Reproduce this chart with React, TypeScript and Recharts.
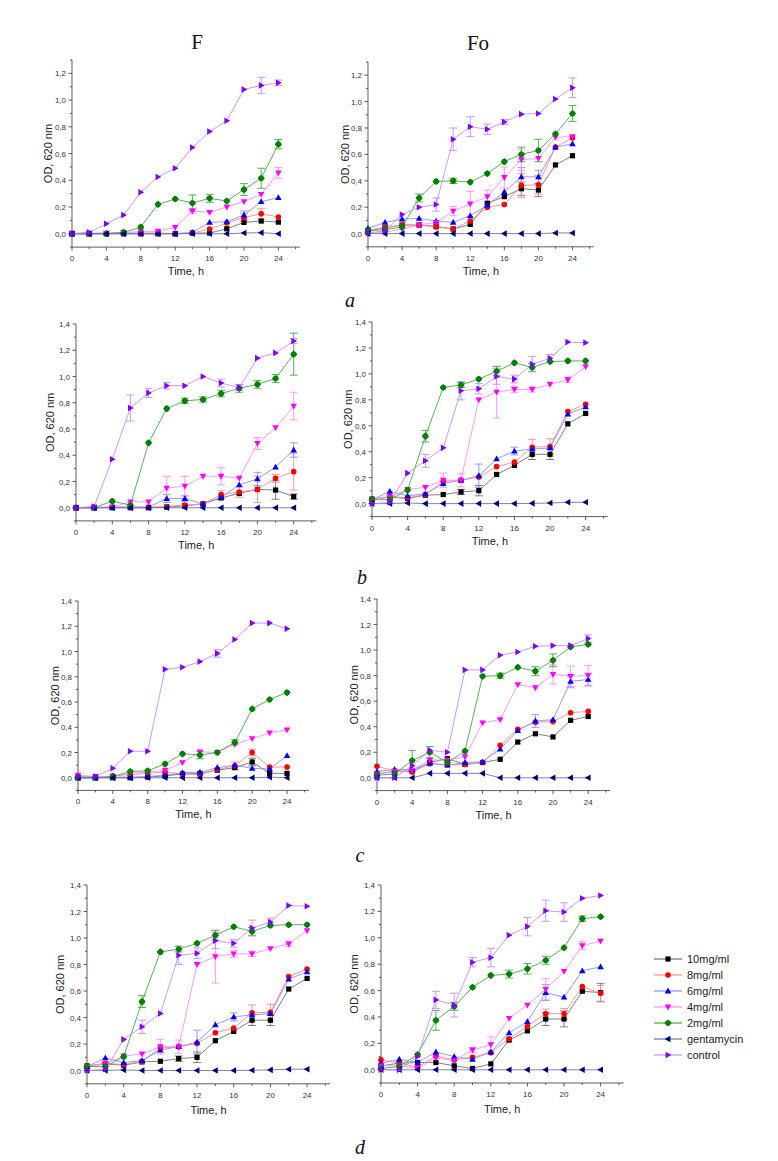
import React from "react";
import { LineChart, Line, XAxis, YAxis, ErrorBar } from "recharts";

const TIME = [0, 2, 4, 6, 8, 10, 12, 14, 16, 18, 20, 22, 24];
const X_TICKS = [0, 2, 4, 6, 8, 10, 12, 14, 16, 18, 20, 22, 24, 26];
const Y_TICKS_13 = [-0.1, 0, 0.1, 0.2, 0.3, 0.4, 0.5, 0.6, 0.7, 0.8, 0.9, 1.0, 1.1, 1.2, 1.3];
const Y_TICKS_14 = [-0.1, 0, 0.1, 0.2, 0.3, 0.4, 0.5, 0.6, 0.7, 0.8, 0.9, 1.0, 1.1, 1.2, 1.3, 1.4];
const SERIES_NAMES = ["10mg/ml", "8mg/ml", "6mg/ml", "4mg/ml", "2mg/ml", "gentamycin", "control"];

// ---- row a, F ----
const aF_10 = [0, 0, 0, 0, 0, 0, 0, 0.005, 0.005, 0.037, 0.085, 0.095, 0.087];
const aF_8 = [0, 0, 0, 0, 0, 0, 0, 0.005, 0.035, 0.08, 0.12, 0.15, 0.125];
const aF_6 = [0, 0, 0.005, 0.005, 0.005, 0.005, 0, 0.01, 0.085, 0.09, 0.14, 0.24, 0.27];
const aF_4 = [0.005, 0.005, 0.005, 0.01, 0.015, 0.02, 0.048, 0.17, 0.16, 0.2, 0.24, 0.295, 0.455];
const aF_2 = [0, 0, 0, 0.01, 0.05, 0.22, 0.26, 0.23, 0.265, 0.245, 0.33, 0.415, 0.67];
const aF_gen = [0, 0, 0, 0, 0, 0, 0, 0, 0, 0, 0.005, 0.008, 0];
const aF_ctrl = [0, 0.01, 0.075, 0.14, 0.31, 0.425, 0.49, 0.645, 0.765, 0.845, 1.08, 1.11, 1.13];
const aF_8e = [0, 0, 0, 0, 0, 0, 0, 0, 0, 0, 0.03, 0.04, 0];
const aF_6e = [0, 0, 0, 0, 0, 0, 0, 0, 0, 0, 0.03, 0, 0];
const aF_4e = [0, 0, 0, 0, 0, 0, 0, 0.02, 0, 0, 0, 0, 0.04];
const aF_2e = [0, 0, 0, 0, 0, 0, 0, 0.06, 0.03, 0, 0.045, 0.075, 0.035];
const aF_ctrle = [0, 0, 0, 0, 0, 0, 0, 0, 0, 0, 0, 0.06, 0.02];

// ---- row a, Fo ----
const aFo_10 = [0.025, 0.045, 0.065, 0.065, 0.055, 0.035, 0.07, 0.23, 0.28, 0.34, 0.33, 0.52, 0.59];
const aFo_8 = [0.025, 0.045, 0.065, 0.065, 0.05, 0.035, 0.095, 0.2, 0.22, 0.365, 0.37, 0.655, 0.725];
const aFo_6 = [0.04, 0.085, 0.11, 0.115, 0.095, 0.085, 0.135, 0.215, 0.315, 0.43, 0.43, 0.655, 0.68];
const aFo_4 = [0, 0.01, 0.035, 0.065, 0.085, 0.17, 0.225, 0.28, 0.425, 0.56, 0.57, 0.73, 0.735];
const aFo_2 = [0.02, 0.03, 0.05, 0.27, 0.395, 0.4, 0.39, 0.455, 0.545, 0.6, 0.63, 0.755, 0.91];
const aFo_gen = [0, 0, 0, 0, 0, 0, 0, 0, 0, 0, 0, 0.005, 0.005];
const aFo_ctrl = [0.005, 0.02, 0.145, 0.2, 0.22, 0.715, 0.81, 0.79, 0.845, 0.905, 0.91, 1.02, 1.105];
const aFo_10e = [0, 0, 0, 0, 0, 0, 0, 0, 0, 0.05, 0.05, 0, 0];
const aFo_8e = [0, 0, 0, 0, 0, 0, 0, 0, 0, 0.09, 0.07, 0, 0];
const aFo_6e = [0, 0, 0, 0, 0, 0, 0, 0, 0, 0.07, 0.05, 0, 0];
const aFo_4e = [0, 0, 0, 0, 0, 0.035, 0.095, 0.05, 0.08, 0.08, 0, 0, 0];
const aFo_2e = [0, 0, 0, 0.03, 0, 0.02, 0, 0, 0, 0.055, 0.085, 0, 0.06];
const aFo_ctrle = [0, 0, 0, 0, 0.05, 0.085, 0.075, 0.04, 0.02, 0, 0, 0, 0.075];

// ---- row b, F ----
const bF_10 = [0, 0, 0, 0, 0, 0.005, 0.015, 0.03, 0.075, 0.11, 0.14, 0.135, 0.085];
const bF_8 = [0, 0, 0.005, 0.005, 0.005, 0.01, 0.02, 0.03, 0.1, 0.12, 0.14, 0.225, 0.275];
const bF_6 = [0, 0, 0.005, 0.005, 0.005, 0.07, 0.07, 0.03, 0.08, 0.175, 0.22, 0.31, 0.44];
const bF_4 = [0, 0.005, 0.005, 0.045, 0.045, 0.15, 0.165, 0.24, 0.24, 0.225, 0.49, 0.61, 0.775];
const bF_2 = [0, 0, 0.05, 0.02, 0.495, 0.755, 0.815, 0.825, 0.87, 0.91, 0.94, 0.985, 1.17];
const bF_gen = [0, 0, 0, 0, 0, 0, 0, 0, 0, 0, 0, 0, 0];
const bF_ctrl = [0, 0.01, 0.37, 0.76, 0.875, 0.93, 0.93, 1.0, 0.95, 0.915, 1.14, 1.18, 1.27];
const bF_10e = [0, 0, 0, 0, 0, 0, 0, 0, 0, 0, 0, 0.07, 0.02];
const bF_8e = [0, 0, 0, 0, 0, 0, 0, 0, 0.03, 0.04, 0.1, 0.03, 0.14];
const bF_6e = [0, 0, 0, 0, 0, 0.03, 0.02, 0, 0, 0, 0.05, 0, 0.055];
const bF_4e = [0, 0, 0, 0, 0, 0.09, 0.075, 0, 0.065, 0, 0.045, 0, 0.105];
const bF_2e = [0, 0, 0, 0, 0, 0, 0.02, 0.02, 0.025, 0.03, 0.03, 0.03, 0.16];
const bF_ctrle = [0, 0, 0, 0.1, 0.035, 0.025, 0, 0, 0.03, 0.02, 0, 0, 0.02];

// ---- row b, Fo (also shown again in row d, F) ----
const bFo_10 = [0.035, 0.05, 0.04, 0.065, 0.07, 0.09, 0.1, 0.225, 0.295, 0.38, 0.38, 0.615, 0.695];
const bFo_8 = [0.035, 0.055, 0.045, 0.07, 0.17, 0.18, 0.205, 0.285, 0.32, 0.435, 0.44, 0.71, 0.765];
const bFo_6 = [0.03, 0.095, 0.06, 0.075, 0.155, 0.18, 0.215, 0.345, 0.405, 0.42, 0.43, 0.69, 0.745];
const bFo_4 = [0.03, 0.05, 0.11, 0.125, 0.18, 0.18, 0.8, 0.86, 0.88, 0.88, 0.92, 0.955, 1.055];
const bFo_2 = [0.03, 0.03, 0.105, 0.52, 0.895, 0.915, 0.96, 1.02, 1.085, 1.05, 1.095, 1.1, 1.1];
const bFo_gen = [0, 0, 0.005, 0, 0, 0, 0, 0, 0, 0.002, 0.005, 0.01, 0.01];
const bFo_ctrl = [0, 0.01, 0.235, 0.33, 0.43, 0.87, 0.885, 0.98, 0.96, 1.075, 1.12, 1.245, 1.24];
const bFo_10e = [0, 0, 0, 0, 0, 0.02, 0.04, 0, 0, 0.04, 0.04, 0, 0];
const bFo_8e = [0, 0, 0, 0, 0, 0, 0, 0, 0, 0.06, 0.06, 0, 0];
const bFo_6e = [0, 0, 0, 0, 0, 0, 0.09, 0, 0.03, 0, 0, 0, 0];
const bFo_4e = [0, 0, 0, 0, 0.055, 0.05, 0, 0.2, 0.025, 0.02, 0, 0.02, 0];
const bFo_2e = [0, 0, 0, 0.045, 0, 0.02, 0, 0.035, 0, 0.03, 0, 0, 0];
const bFo_ctrle = [0, 0, 0, 0.05, 0, 0.07, 0.04, 0.06, 0.03, 0.06, 0.03, 0, 0];

// ---- row c, F ----
const cF_10 = [0, 0, 0, 0, 0.005, 0.015, 0.03, 0.035, 0.06, 0.08, 0.125, 0.035, 0.035];
const cF_8 = [0.005, 0, 0.015, 0.025, 0.035, 0.045, 0.03, 0.025, 0.065, 0.095, 0.2, 0.085, 0.085];
const cF_6 = [0, 0, 0.005, 0.005, 0.01, 0.02, 0.04, 0.045, 0.08, 0.1, 0.075, 0.07, 0.175];
const cF_4 = [0.02, 0.01, 0.01, 0.035, 0.045, 0.06, 0.12, 0.205, 0.2, 0.265, 0.31, 0.355, 0.38];
const cF_2 = [0, 0, 0.01, 0.05, 0.055, 0.11, 0.19, 0.18, 0.2, 0.28, 0.545, 0.62, 0.675];
const cF_gen = [0, 0, 0, 0, 0, 0, 0, 0, 0, 0, 0, 0.005, 0];
const cF_ctrl = [0.01, 0.01, 0.075, 0.21, 0.21, 0.86, 0.875, 0.92, 0.985, 1.095, 1.225, 1.225, 1.18];
const cF_10e = [0, 0, 0, 0, 0, 0, 0, 0, 0, 0, 0.03, 0, 0];
const cF_8e = [0, 0, 0, 0, 0, 0, 0, 0, 0, 0.03, 0.025, 0, 0];
const cF_2e = [0, 0, 0, 0, 0, 0, 0, 0.03, 0, 0.02, 0, 0, 0];
const cF_ctrle = [0, 0, 0, 0, 0, 0, 0, 0, 0.03, 0, 0, 0, 0];

// ---- row c, Fo ----
const cFo_10 = [0.03, 0.05, 0.05, 0.12, 0.15, 0.105, 0.12, 0.145, 0.28, 0.345, 0.32, 0.45, 0.48];
const cFo_8 = [0.09, 0.055, 0.045, 0.11, 0.1, 0.105, 0.12, 0.255, 0.38, 0.435, 0.44, 0.51, 0.52];
const cFo_6 = [0.05, 0.065, 0.065, 0.115, 0.1, 0.12, 0.125, 0.225, 0.37, 0.445, 0.455, 0.755, 0.77];
const cFo_4 = [0.03, 0.05, 0.06, 0.14, 0.14, 0.165, 0.43, 0.455, 0.73, 0.705, 0.81, 0.795, 0.8];
const cFo_2 = [0.02, 0.03, 0.135, 0.2, 0.12, 0.21, 0.795, 0.8, 0.865, 0.835, 0.92, 1.025, 1.045];
const cFo_gen = [0, 0, 0, 0.035, 0.035, 0.035, 0.035, 0, 0, 0, 0, 0, 0];
const cFo_ctrl = [0, 0, 0.095, 0.215, 0.2, 0.845, 0.845, 0.96, 0.985, 1.03, 1.035, 1.035, 1.09];
const cFo_6e = [0, 0, 0, 0, 0, 0, 0, 0, 0, 0.05, 0, 0.05, 0.05];
const cFo_4e = [0, 0, 0, 0, 0, 0, 0, 0, 0, 0, 0.075, 0.08, 0.08];
const cFo_2e = [0, 0, 0.08, 0.045, 0, 0, 0, 0.02, 0, 0.035, 0.05, 0, 0];
const cFo_ctrle = [0, 0, 0, 0, 0, 0, 0, 0, 0, 0, 0, 0, 0.03];

// ---- row d, Fo ----
const dFo_10 = [0.03, 0.05, 0.055, 0.055, 0.03, 0.01, 0.045, 0.225, 0.295, 0.385, 0.385, 0.595, 0.585];
const dFo_8 = [0.075, 0.05, 0.02, 0.105, 0.075, 0.095, 0.13, 0.235, 0.33, 0.425, 0.425, 0.63, 0.58];
const dFo_6 = [0.05, 0.08, 0.055, 0.135, 0.1, 0.08, 0.135, 0.28, 0.365, 0.585, 0.55, 0.75, 0.78];
const dFo_4 = [0.03, 0.03, 0.01, 0.09, 0.07, 0.15, 0.19, 0.39, 0.49, 0.61, 0.745, 0.94, 0.975];
const dFo_2 = [0.01, 0.025, 0.115, 0.375, 0.48, 0.625, 0.715, 0.725, 0.765, 0.83, 0.925, 1.145, 1.16];
const dFo_gen = [0, 0, 0, 0, 0, 0, 0, 0, 0, 0, 0, 0, 0];
const dFo_ctrl = [0, 0, 0.1, 0.53, 0.49, 0.815, 0.85, 1.02, 1.085, 1.205, 1.195, 1.3, 1.32];
const dFo_10e = [0, 0, 0, 0, 0, 0, 0, 0, 0, 0.05, 0.06, 0, 0.07];
const dFo_8e = [0, 0, 0, 0, 0, 0, 0, 0, 0, 0.035, 0.04, 0, 0.06];
const dFo_6e = [0, 0, 0, 0, 0, 0, 0, 0, 0, 0.06, 0, 0, 0];
const dFo_4e = [0, 0, 0, 0, 0, 0.02, 0.06, 0, 0, 0.08, 0, 0.03, 0];
const dFo_2e = [0, 0, 0, 0.075, 0.03, 0, 0, 0.03, 0.04, 0.03, 0, 0.02, 0];
const dFo_ctrle = [0, 0, 0, 0.065, 0.09, 0.035, 0.07, 0, 0.07, 0.08, 0.07, 0, 0];

type Shape = "square" | "circle" | "up" | "down" | "diamond" | "left" | "right";

const STYLES: { shape: Shape; mark: string; line: string }[] = [
  { shape: "square", mark: "#000000", line: "#707070" },
  { shape: "circle", mark: "#ff0000", line: "#ff8c8c" },
  { shape: "up", mark: "#0000ff", line: "#8c8cff" },
  { shape: "down", mark: "#ff00ff", line: "#ff8cff" },
  { shape: "diamond", mark: "#008000", line: "#45a845" },
  { shape: "left", mark: "#000080", line: "#7070b8" },
  { shape: "right", mark: "#8000ff", line: "#c48cff" },
];

const PANELS = [
  { id: "aF", yTop: 1.3, vals: [aF_10, aF_8, aF_6, aF_4, aF_2, aF_gen, aF_ctrl], errs: [null, aF_8e, aF_6e, aF_4e, aF_2e, null, aF_ctrle] },
  { id: "aFo", yTop: 1.3, vals: [aFo_10, aFo_8, aFo_6, aFo_4, aFo_2, aFo_gen, aFo_ctrl], errs: [aFo_10e, aFo_8e, aFo_6e, aFo_4e, aFo_2e, null, aFo_ctrle] },
  { id: "bF", yTop: 1.4, vals: [bF_10, bF_8, bF_6, bF_4, bF_2, bF_gen, bF_ctrl], errs: [bF_10e, bF_8e, bF_6e, bF_4e, bF_2e, null, bF_ctrle] },
  { id: "bFo", yTop: 1.4, vals: [bFo_10, bFo_8, bFo_6, bFo_4, bFo_2, bFo_gen, bFo_ctrl], errs: [bFo_10e, bFo_8e, bFo_6e, bFo_4e, bFo_2e, null, bFo_ctrle] },
  { id: "cF", yTop: 1.4, vals: [cF_10, cF_8, cF_6, cF_4, cF_2, cF_gen, cF_ctrl], errs: [cF_10e, cF_8e, null, null, cF_2e, null, cF_ctrle] },
  { id: "cFo", yTop: 1.4, vals: [cFo_10, cFo_8, cFo_6, cFo_4, cFo_2, cFo_gen, cFo_ctrl], errs: [null, null, cFo_6e, cFo_4e, cFo_2e, null, cFo_ctrle] },
  { id: "dF", yTop: 1.4, vals: [bFo_10, bFo_8, bFo_6, bFo_4, bFo_2, bFo_gen, bFo_ctrl], errs: [bFo_10e, bFo_8e, bFo_6e, bFo_4e, bFo_2e, null, bFo_ctrle] },
  { id: "dFo", yTop: 1.4, vals: [dFo_10, dFo_8, dFo_6, dFo_4, dFo_2, dFo_gen, dFo_ctrl], errs: [dFo_10e, dFo_8e, dFo_6e, dFo_4e, dFo_2e, null, dFo_ctrle] },
];

// plot-area placement on the page: left, top, width, height, y-label distance, x-label offset
const LAYOUT: Record<string, { L: number; T: number; W: number; H: number; yl: number; tl: number }> = {
  aF: { L: 71.7, T: 60.3, W: 227.9, H: 187.1, yl: 23.7, tl: 6 },
  aFo: { L: 368.3, T: 62.4, W: 225.8, H: 184.8, yl: 23.3, tl: 6 },
  bF: { L: 75.7, T: 323.5, W: 240.4, H: 196.9, yl: 25.7, tl: 6 },
  bFo: { L: 371.7, T: 322.4, W: 235.9, H: 194.6, yl: 24, tl: 6 },
  cF: { L: 78.3, T: 600.9, W: 230.8, H: 189.4, yl: 23.3, tl: 6 },
  cFo: { L: 377.3, T: 598.9, W: 233.2, H: 191.6, yl: 23, tl: 6 },
  dF: { L: 86.7, T: 885.2, W: 243, H: 198.8, yl: 26.7, tl: 4 },
  dFo: { L: 381, T: 885.2, W: 242.5, H: 198, yl: 27, tl: 4 },
};

const SANS = '"Liberation Sans", Arial, sans-serif';
const SERIF = '"Liberation Serif", "Times New Roman", serif';
const AXIS = "#333";
const YW = 40;
const XH = 34;

function Marker({ cx, cy, shape, color }: { cx?: number; cy?: number; shape: Shape; color: string }) {
  if (cx == null || cy == null || Number.isNaN(cx) || Number.isNaN(cy)) return null;
  switch (shape) {
    case "square":
      return <rect x={cx - 2.6} y={cy - 2.6} width={5.2} height={5.2} fill={color} />;
    case "circle":
      return <circle cx={cx} cy={cy} r={2.8} fill={color} />;
    case "up":
      return <polygon points={`${cx},${cy - 3.4} ${cx - 3.3},${cy + 2.4} ${cx + 3.3},${cy + 2.4}`} fill={color} />;
    case "down":
      return <polygon points={`${cx},${cy + 3.4} ${cx - 3.3},${cy - 2.4} ${cx + 3.3},${cy - 2.4}`} fill={color} />;
    case "diamond":
      return (
        <g>
          <circle cx={cx} cy={cy} r={2.8} fill={color} />
          <polygon points={`${cx},${cy - 3.6} ${cx + 3.6},${cy} ${cx},${cy + 3.6} ${cx - 3.6},${cy}`} fill={color} />
        </g>
      );
    case "left":
      return <polygon points={`${cx - 3.4},${cy} ${cx + 2.4},${cy - 3.3} ${cx + 2.4},${cy + 3.3}`} fill={color} />;
    default:
      return <polygon points={`${cx + 3.4},${cy} ${cx - 2.4},${cy - 3.3} ${cx - 2.4},${cy + 3.3}`} fill={color} />;
  }
}

const fmt = (v: number) => v.toFixed(1).replace(".", ",");

function YTick(props: any) {
  const { x, y, payload } = props;
  const v = payload.value as number;
  const ax = x + 6; // tickSize 3 + tickMargin 3
  const major = v >= 0 && Math.round(v * 10) % 2 === 0;
  return (
    <g>
      <line x1={ax - (major ? 3.5 : 2)} x2={ax} y1={y} y2={y} stroke={AXIS} strokeWidth={0.8} />
      {major && (
        <text x={x} y={y} dy={3} textAnchor="end" fontSize={8} fontFamily={SANS} fill="#333">
          {fmt(v)}
        </text>
      )}
    </g>
  );
}

function XTick(props: any) {
  const { x, y, payload } = props;
  const v = payload.value as number;
  const ay = y - 7; // tickSize 4 + tickMargin 3
  const major = v % 4 === 0 && v <= 24;
  return (
    <g>
      <line x1={x} x2={x} y1={ay} y2={ay + (major ? 3.5 : 2)} stroke={AXIS} strokeWidth={0.8} />
      {major && (
        <text x={x} y={ay + 14} textAnchor="middle" fontSize={8} fontFamily={SANS} fill="#333">
          {v}
        </text>
      )}
    </g>
  );
}

function Panel({ panel }: { panel: (typeof PANELS)[number] }) {
  const lay = LAYOUT[panel.id];
  const rows = TIME.map((t, i) => {
    const r: Record<string, number> = { t };
    panel.vals.forEach((arr, j) => {
      r[`v${j}`] = arr[i];
      const e = panel.errs[j];
      if (e) r[`e${j}`] = e[i];
    });
    return r;
  });
  const width = YW + lay.W + 6;
  const height = 5 + lay.H + XH;
  return (
    <div style={{ position: "absolute", left: lay.L - YW, top: lay.T - 5 }}>
      <LineChart width={width} height={height} data={rows} margin={{ top: 5, right: 6, bottom: 0, left: 0 }}>
        <XAxis
          dataKey="t"
          type="number"
          domain={[0, 26.5]}
          ticks={X_TICKS}
          interval={0}
          height={XH}
          tickLine={false}
          tickSize={4}
          tickMargin={3}
          tick={<XTick />}
          axisLine={{ stroke: AXIS, strokeWidth: 0.8 }}
          label={{ value: "Time, h", position: "insideBottom", offset: lay.tl, fontSize: 11, fontFamily: SANS, fill: "#222" }}
        />
        <YAxis
          type="number"
          domain={[-0.1, panel.yTop]}
          ticks={panel.yTop > 1.35 ? Y_TICKS_14 : Y_TICKS_13}
          interval={0}
          width={YW}
          tickLine={false}
          tickSize={3}
          tickMargin={3}
          tick={<YTick />}
          axisLine={{ stroke: AXIS, strokeWidth: 0.8 }}
          label={{
            value: "OD, 620 nm",
            angle: -90,
            position: "insideLeft",
            offset: YW - lay.yl,
            fontSize: 11,
            fontFamily: SANS,
            fill: "#222",
            style: { textAnchor: "middle" },
          }}
        />
        {STYLES.map((s, j) => (
          <Line
            key={j}
            dataKey={`v${j}`}
            name={SERIES_NAMES[j]}
            type="linear"
            stroke={s.line}
            strokeWidth={0.9}
            isAnimationActive={false}
            activeDot={false}
            dot={(p: any) => <Marker key={`m${j}-${p.index}`} cx={p.cx} cy={p.cy} shape={s.shape} color={s.mark} />}
          >
            {panel.errs[j] && (
              <ErrorBar dataKey={`e${j}`} direction="y" width={4} stroke={s.line} strokeWidth={0.9} isAnimationActive={false} />
            )}
          </Line>
        ))}
      </LineChart>
    </div>
  );
}

const TITLES = [
  { text: "F", x: 197, y: 42 },
  { text: "Fo", x: 478, y: 43 },
];
const LETTERS = [
  { text: "a", x: 350, y: 300 },
  { text: "b", x: 362, y: 577 },
  { text: "c", x: 360, y: 855 },
  { text: "d", x: 360, y: 1147 },
];

export default function App() {
  return (
    <div style={{ position: "absolute", left: 0, top: 0, width: 778, height: 1161, background: "#fff", overflow: "hidden" }}>
      {PANELS.map((p) => (
        <Panel key={p.id} panel={p} />
      ))}
      <svg width={778} height={1161} style={{ position: "absolute", left: 0, top: 0, pointerEvents: "none" }}>
        {TITLES.map((t) => (
          <text key={t.text} x={t.x} y={t.y} textAnchor="middle" dominantBaseline="central" fontSize={21} fontFamily={SERIF} fill="#111">
            {t.text}
          </text>
        ))}
        {LETTERS.map((t) => (
          <text key={t.text} x={t.x} y={t.y} textAnchor="middle" dominantBaseline="central" fontSize={20} fontStyle="italic" fontFamily={SERIF} fill="#111">
            {t.text}
          </text>
        ))}
        {SERIES_NAMES.map((name, j) => {
          const y = 959 + j * 16;
          const s = STYLES[j];
          return (
            <g key={name}>
              <line x1={654} x2={682} y1={y} y2={y} stroke={s.line} strokeWidth={1.2} />
              <Marker cx={668} cy={y} shape={s.shape} color={s.mark} />
              <text x={687} y={y} dy={4} fontSize={11} fontFamily={SANS} fill="#222">
                {name}
              </text>
            </g>
          );
        })}
      </svg>
    </div>
  );
}
